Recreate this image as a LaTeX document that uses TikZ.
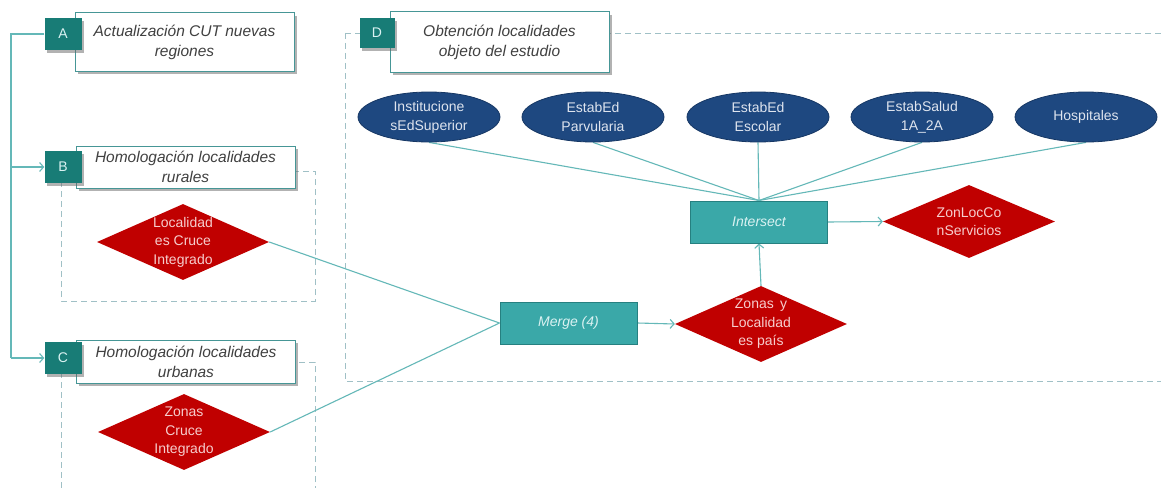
\documentclass[tikz,border=0pt]{standalone}
\usepackage{fontspec}
\setmainfont{Liberation Sans}
\usetikzlibrary{shapes.geometric,arrows.meta,shadows}

\definecolor{tealdark}{RGB}{24,124,118}
\definecolor{tealfill}{RGB}{58,168,168}
\definecolor{tealedge}{RGB}{38,128,128}
\definecolor{boxline}{RGB}{70,150,150}
\definecolor{linecol}{RGB}{100,184,184}
\definecolor{dashcol}{RGB}{160,192,198}
\definecolor{navyfill}{RGB}{30,72,128}
\definecolor{navyedge}{RGB}{22,55,100}
\definecolor{redfill}{RGB}{192,0,0}
\definecolor{titletext}{RGB}{64,64,64}
\definecolor{lighttext}{RGB}{222,228,238}
\definecolor{redtext}{RGB}{246,205,205}
\definecolor{tooltext}{RGB}{218,242,242}

\pgfdeclarelayer{back}
\pgfsetlayers{back,main}

\begin{document}
\begin{tikzpicture}[x=1pt,y=-1pt,
  softshadow/.style={drop shadow={shadow xshift=2.5pt,shadow yshift=-3pt,opacity=.5,fill=black!60}},
  titlebox/.style={draw=boxline,line width=1pt,fill=white,minimum width=219pt,inner sep=0pt,
    align=center,text=titletext,font=\fontsize{15.5}{20}\selectfont\itshape,softshadow},
  letterbox/.style={fill=tealdark,minimum width=37pt,minimum height=32pt,inner sep=0pt,
    text=tooltext,font=\fontsize{14}{16}\selectfont,softshadow},
  group/.style={draw=dashcol,line width=0.9pt,dash pattern=on 6pt off 4pt},
  source/.style={ellipse,fill=navyfill,draw=navyedge,line width=0.8pt,minimum width=142pt,
    minimum height=50pt,inner sep=0pt,align=center,text=lighttext,
    font=\fontsize{14}{19}\selectfont},
  dataset/.style={diamond,fill=redfill,minimum width=172pt,minimum height=76pt,inner sep=0pt},
  dtext/.style={align=center,text=redtext,font=\fontsize{14}{18.5}\selectfont},
  tool/.style={rectangle,fill=tealfill,draw=tealedge,line width=1pt,minimum width=137pt,
    minimum height=42pt,inner sep=0pt,text=tooltext,font=\fontsize{14}{16}\selectfont\itshape},
  conn/.style={draw=linecol,line width=1.1pt},
  flow/.style={conn,-{Straight Barb[length=4pt,width=9pt]}}
]
\useasboundingbox (0,0) rectangle (1161,487);

% ---- section titles -------------------------------------------------------
\node[titlebox,minimum height=58pt] (tA) at (184.5,42) {Actualización CUT nuevas\\regiones};
\node[letterbox] (sqA) at (63,34) {A};

\node[titlebox,minimum height=42pt] (tB) at (185.5,167) {Homologación localidades\\rurales};
\node[letterbox] (sqB) at (63,167) {B};

\node[titlebox,minimum height=43pt] (tC) at (186,361.5) {Homologación localidades\\urbanas};
\node[letterbox] (sqC) at (63,358) {C};

\node[titlebox,minimum height=60pt] (tD) at (499.5,42) {Obtención localidades\\objeto del estudio};
\node[letterbox,minimum width=35pt,minimum height=30pt] (sqD) at (377,33) {D};

% ---- input layers ---------------------------------------------------------
\node[source] (e1) at (429,117) {Institucione\\sEdSuperior};
\node[source] (e2) at (593,117) {EstabEd\\Parvularia};
\node[source] (e3) at (758,117) {EstabEd\\Escolar};
\node[source] (e4) at (922,117) {EstabSalud\\1A\_2A};
\node[source] (e5) at (1086,117) {Hospitales};

% ---- tools and datasets ---------------------------------------------------
\node[tool] (inter) at (759,222) {Intersect};
\node[tool] (merge) at (568.5,323) {Merge (4)};

\node[dataset] (dLoc) at (183,242) {};
\node[dtext] at (dLoc) {Localidad\\es Cruce\\Integrado};

\node[dataset] (dZon) at (184,432) {};
\node[dtext] at (dZon) {Zonas\\Cruce\\Integrado};

\node[dataset] (dPais) at (761,324) {};
\node[dtext] at (dPais) {Zonas\, y\\Localidad\\es país};

\node[dataset,minimum height=73pt] (dServ) at (969,221.5) {};
\node[dtext] at (dServ) {ZonLocCo\\nServicios};

\coordinate (trunk) at (11,0);

\begin{pgfonlayer}{back}
  \fill[white] (0,0) rectangle (1161,487);

  % dashed frames of the sections
  \draw[group] (61,171) rectangle (315,301);
  \draw[group] (61,362) rectangle (315,500);
  \draw[group] (345,33) rectangle (1170,381);

  % left trunk linking the sections
  \draw[conn] (sqA.west) -- (sqA.west -| trunk) -- (sqC.west -| trunk);
  \draw[flow] (sqB.west -| trunk) -- (sqB.west);
  \draw[flow] (sqC.west -| trunk) -- (sqC.west);

  % workflow
  \foreach \e in {e1,e2,e3,e4,e5}
    \draw[conn] (\e.south) -- (inter.north);
  \draw[conn] (dLoc.east) -- (merge.west);
  \draw[conn] (dZon.east) -- (merge.west);
  \draw[flow] (merge.east) -- (dPais.west);
  \draw[flow] (dPais.north) -- (inter.south);
  \draw[flow] (inter.east) -- (dServ.west);
\end{pgfonlayer}
\end{tikzpicture}
\end{document}
